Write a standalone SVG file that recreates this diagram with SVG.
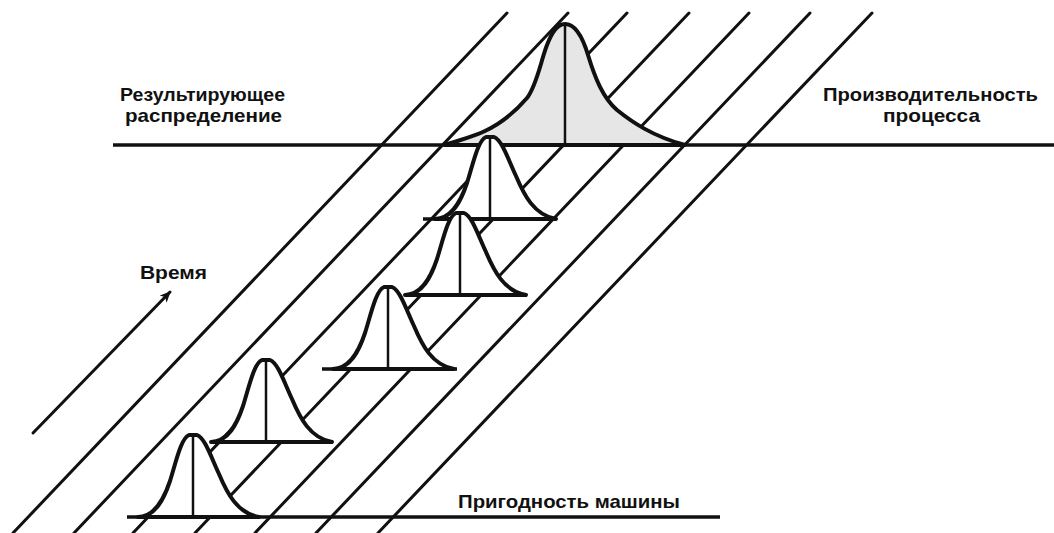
<svg xmlns="http://www.w3.org/2000/svg" xmlns:xlink="http://www.w3.org/1999/xlink" width="1054" height="533" viewBox="0 0 1054 533">
<style>
.diag{stroke:#111;stroke-width:3;fill:none;stroke-linecap:round}
.hline{stroke:#111;stroke-width:3.5;fill:none}
.bell{stroke:#111;stroke-width:4;fill:#fff;stroke-linejoin:round}
.big{stroke:#111;stroke-width:4;fill:#e6e6e6;stroke-linejoin:round}
.vert{stroke:#111;stroke-width:2.5}
.lbl{font-family:"Liberation Sans",Arial,sans-serif;font-weight:bold;font-size:19px;fill:#111}
</style>
<defs>
<marker id="arr" markerWidth="12" markerHeight="10" refX="10" refY="5" orient="auto" markerUnits="userSpaceOnUse">
<path d="M0,0 L11,5 L0,10 L3,5 Z" fill="#111"/>
</marker>
<path id="bellShape" d="M -55,0 C -38,0 -29,-18 -23,-36 C -17,-55 -12,-79 -4,-82 L 4,-82 C 12,-79 18,-60 26,-43 C 34,-24 44,-4 66,0 Z"/>
</defs>
<g id="connectors">
<line class="diag" x1="507" y1="13" x2="13" y2="533"/>
<line class="diag" x1="568" y1="13" x2="74" y2="533"/>
<line class="diag" x1="627" y1="13" x2="133" y2="533"/>
<line class="diag" x1="689" y1="13" x2="195" y2="533"/>
<line class="diag" x1="749" y1="13" x2="255" y2="533"/>
<line class="diag" x1="810" y1="13" x2="316" y2="533"/>
<line class="diag" x1="872" y1="13" x2="378" y2="533"/>
<line class="diag" x1="33" y1="433" x2="170" y2="292" marker-end="url(#arr)"/>
</g>
<g id="process-line">
<line class="hline" x1="113" y1="145" x2="1054" y2="145"/>
</g>
<g id="resulting-distribution">
<path class="big" d="M 445,145 C 460,140 475,136 485,131 C 500,124 515,112 527,98 C 537,85 541,60 547,45 C 552,32 557,24 565,24 C 575,24 582,35 588,55 C 595,78 603,98 617,110 C 632,122 652,136 685,145 Z"/>
<line class="vert" x1="565" y1="24" x2="565" y2="145"/>
</g>
<g id="dist5">
<use xlink:href="#bellShape" class="bell" transform="translate(490,219)"/>
<line class="vert" x1="490" y1="137" x2="490" y2="219"/>
<line class="hline" x1="423" y1="219" x2="553" y2="219"/>
</g>
<g id="dist4">
<use xlink:href="#bellShape" class="bell" transform="translate(460,295)"/>
<line class="vert" x1="460" y1="213" x2="460" y2="295"/>
<line class="hline" x1="408" y1="295" x2="527" y2="295"/>
</g>
<g id="dist3">
<use xlink:href="#bellShape" class="bell" transform="translate(388,369)"/>
<line class="vert" x1="388" y1="287" x2="388" y2="369"/>
<line class="hline" x1="322" y1="369" x2="457" y2="369"/>
</g>
<g id="dist2">
<use xlink:href="#bellShape" class="bell" transform="translate(266,442)"/>
<line class="vert" x1="266" y1="360" x2="266" y2="442"/>
<line class="hline" x1="211" y1="442" x2="333" y2="442"/>
</g>
<g id="dist1">
<use xlink:href="#bellShape" class="bell" transform="translate(193,517)"/>
<line class="vert" x1="193" y1="435" x2="193" y2="517"/>
<line class="hline" x1="127" y1="517" x2="720" y2="517"/>
</g>
<g id="labels">
<text class="lbl" x="120" y="101" textLength="165" lengthAdjust="spacingAndGlyphs">Результирующее</text>
<text class="lbl" x="125" y="122" textLength="157" lengthAdjust="spacingAndGlyphs">распределение</text>
<text class="lbl" x="823" y="101" textLength="215" lengthAdjust="spacingAndGlyphs">Производительность</text>
<text class="lbl" x="883" y="122" textLength="97" lengthAdjust="spacingAndGlyphs">процесса</text>
<text class="lbl" x="140" y="279" textLength="67" lengthAdjust="spacingAndGlyphs">Время</text>
<text class="lbl" x="458" y="508" textLength="222" lengthAdjust="spacingAndGlyphs">Пригодность машины</text>
</g>
</svg>
